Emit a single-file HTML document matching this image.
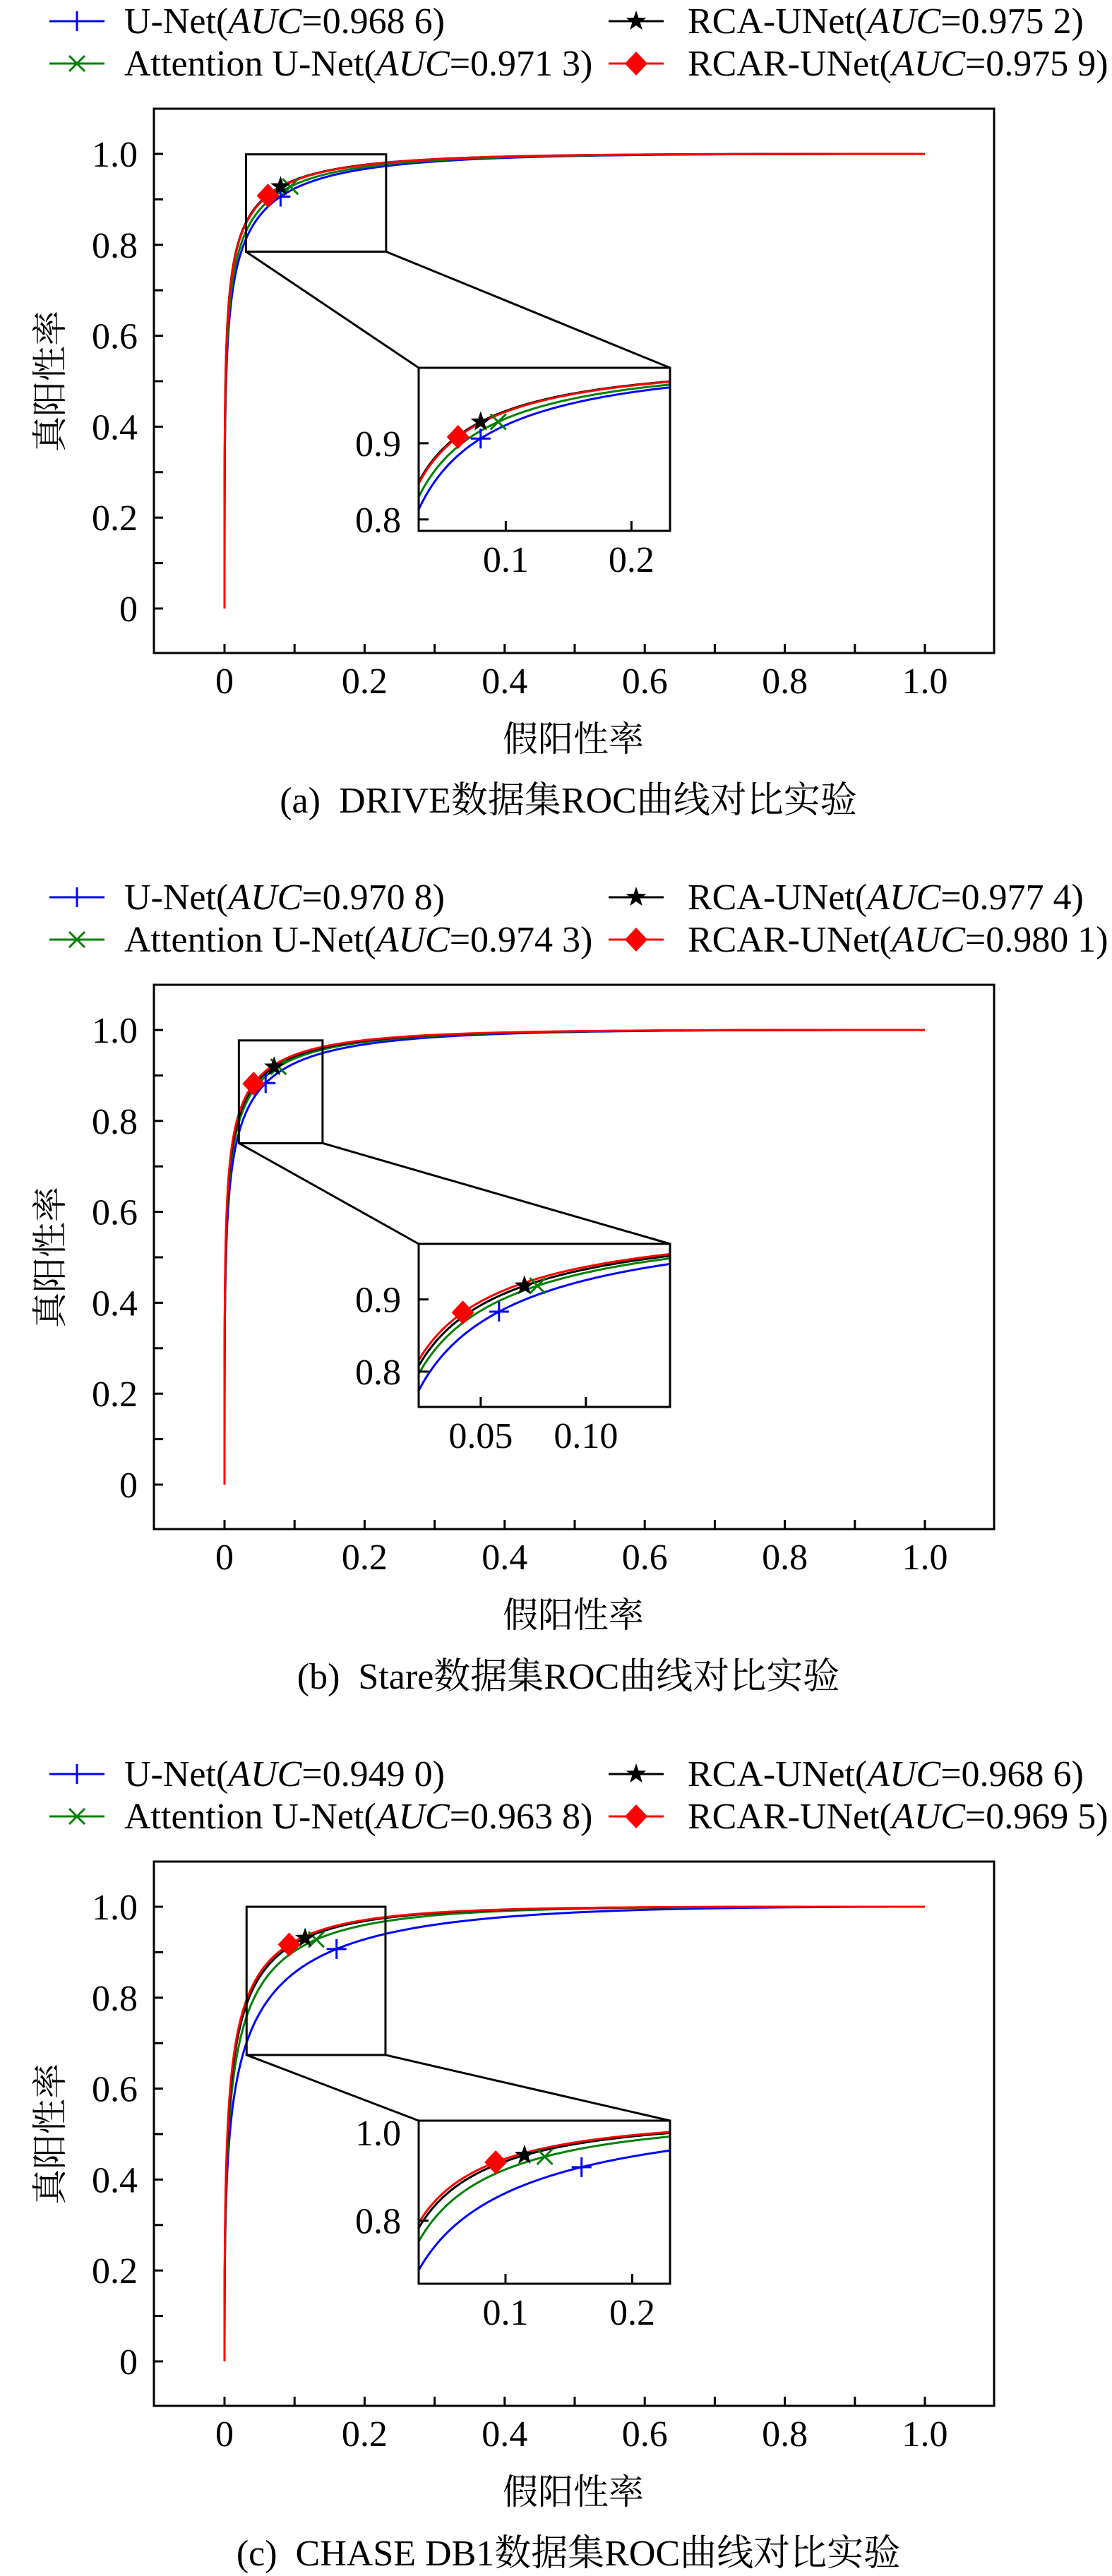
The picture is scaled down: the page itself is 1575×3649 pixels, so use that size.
<!DOCTYPE html>
<html><head><meta charset="utf-8">
<style>
html,body{margin:0;padding:0;background:#fff;}
svg{display:block;}
text{font-family:"Liberation Serif","Noto Serif CJK SC","Noto Sans CJK SC",serif;fill:#000;}
</style></head>
<body>
<svg id="s" width="1575" height="3649" viewBox="0 0 1575 3649" xmlns="http://www.w3.org/2000/svg"></svg>
<script>
function erf(x){var s=x<0?-1:1;x=Math.abs(x);var t=1/(1+0.3275911*x);
var y=1-(((((1.061405429*t-1.453152027)*t)+1.421413741)*t-0.284496736)*t+0.254829592)*t*Math.exp(-x*x);return s*y;}
function Phi(z){return 0.5*(1+erf(z/Math.SQRT2));}
function PhiInv(p){var a=[-3.969683028665376e+01,2.209460984245205e+02,-2.759285104469687e+02,1.383577518672690e+02,-3.066479806614716e+01,2.506628277459239e+00];
var b=[-5.447609879822406e+01,1.615858368580409e+02,-1.556989798598866e+02,6.680131188771972e+01,-1.328068155288572e+01];
var c=[-7.784894002430293e-03,-3.223964580411365e-01,-2.400758277161838e+00,-2.549732539343734e+00,4.374664141464968e+00,2.938163982698783e+00];
var d=[7.784695709041462e-03,3.224671290700398e-01,2.445134137142996e+00,3.754408661907416e+00];
var pl=0.02425,q,r;
if(p<pl){q=Math.sqrt(-2*Math.log(p));return (((((c[0]*q+c[1])*q+c[2])*q+c[3])*q+c[4])*q+c[5])/((((d[0]*q+d[1])*q+d[2])*q+d[3])*q+1);}
if(p<=1-pl){q=p-0.5;r=q*q;return (((((a[0]*r+a[1])*r+a[2])*r+a[3])*r+a[4])*r+a[5])*q/(((((b[0]*r+b[1])*r+b[2])*r+b[3])*r+b[4])*r+1);}
q=Math.sqrt(-2*Math.log(1-p));return -(((((c[0]*q+c[1])*q+c[2])*q+c[3])*q+c[4])*q+c[5])/((((d[0]*q+d[1])*q+d[2])*q+d[3])*q+1);}
function roc(a,b,x){if(x<=0)return 0;if(x>=1)return 1;return Phi(a+b*PhiInv(x));}

var svg=document.getElementById('s');var out='';
var COL=['#0000ff','#008000','#000000','#ff0000'];
var NAMES=['U-Net','Attention U-Net','RCA-UNet','RCAR-UNet'];
function marker(i,x,y){
 var c=COL[i];
 if(i==0)return '<path d="M'+(x-14)+' '+y+'H'+(x+14)+'M'+x+' '+(y-14)+'V'+(y+14)+'" stroke="'+c+'" stroke-width="3" fill="none"/>';
 if(i==1)return '<path d="M'+(x-11)+' '+(y-11)+'L'+(x+11)+' '+(y+11)+'M'+(x-11)+' '+(y+11)+'L'+(x+11)+' '+(y-11)+'" stroke="'+c+'" stroke-width="3" fill="none"/>';
 if(i==2){var p=[];for(var k=0;k<10;k++){var r=k%2?6:15;var an=-Math.PI/2+k*Math.PI/5;p.push((x+r*Math.cos(an)).toFixed(1)+','+(y+r*Math.sin(an)).toFixed(1));}
  return '<polygon points="'+p.join(' ')+'" fill="#000"/>';}
 return '<polygon points="'+x+','+(y-17)+' '+(x+16)+','+y+' '+x+','+(y+17)+' '+(x-16)+','+y+'" fill="'+c+'"/>';
}
function panel(T,P,idx){
 var X=function(v){return 318+992*v;},Y=function(v){return T+708-644*v;};
 var o='';
 // legend
 var rows=[T-124,T-64];
 for(var i=0;i<4;i++){
  var col=(i==0||i==1)?0:1, row=(i==0||i==2)?0:1;
  var lx=col?862:70, tx=col?974:176, ly=rows[row];
  o+='<line x1="'+lx+'" y1="'+ly+'" x2="'+(lx+78)+'" y2="'+ly+'" stroke="'+COL[i]+'" stroke-width="3"/>';
  o+=marker(i,lx+39,ly);
  o+='<text x="'+tx+'" y="'+(ly+17)+'" font-size="52">'+NAMES[i]+'(<tspan font-style="italic">AUC</tspan>='+P.auc[i]+')</text>';
 }
 // axes
 o+='<rect x="218" y="'+T+'" width="1190" height="771" fill="none" stroke="#000" stroke-width="3"/>';
 for(var k=0;k<=10;k++){var xx=X(k/10);o+='<line x1="'+xx+'" y1="'+(T+771)+'" x2="'+xx+'" y2="'+(T+758)+'" stroke="#000" stroke-width="3"/>';
  var yy=Y(k/10);o+='<line x1="218" y1="'+yy+'" x2="231" y2="'+yy+'" stroke="#000" stroke-width="3"/>';}
 var lab=['0','0.2','0.4','0.6','0.8','1.0'];
 for(var k=0;k<6;k++){o+='<text x="'+X(k*0.2)+'" y="'+(T+828)+'" font-size="52" text-anchor="middle">'+lab[k]+'</text>';
  o+='<text x="195" y="'+(Y(k*0.2)+18)+'" font-size="52" text-anchor="end">'+lab[k]+'</text>';}
 o+='<text x="812" y="'+(T+910)+'" font-size="50" text-anchor="middle">假阳性率</text>';
 o+='<text transform="translate(88,'+(T+386)+') rotate(-90)" font-size="50" text-anchor="middle">真阳性率</text>';
 o+='<text x="805" y="'+(T+997)+'" font-size="52" text-anchor="middle" xml:space="preserve">'+P.cap+'</text>';
 // curves main
 var xs=[0];for(var e=-8;e<=0;e+=0.01)xs.push(Math.pow(10,e));
 var ix0=593,ix1=949,iy0=T+367,iy1=T+598;
 var r=P.r;
 var IX=function(v){return ix0+(v-r[0])/(r[1]-r[0])*(ix1-ix0);},IY=function(v){return iy1-(v-r[2])/(r[3]-r[2])*(iy1-iy0);};
 o+='<clipPath id="c'+idx+'"><rect x="'+ix0+'" y="'+iy0+'" width="'+(ix1-ix0)+'" height="'+(iy1-iy0)+'"/></clipPath>';
 var mk='',mki='';
 for(var i=0;i<4;i++){
  var a=P.a[i],b=P.b[i],d='',d2='';
  for(var j=0;j<xs.length;j++){var x=xs[j],y=roc(a,b,x);d+=(j?'L':'M')+X(x).toFixed(2)+' '+Y(y).toFixed(2);}
  o+='<path d="'+d+'" fill="none" stroke="'+COL[i]+'" stroke-width="3"/>';
  for(var j=0;j<=300;j++){var x=r[0]+(r[1]-r[0])*j/300,y=roc(a,b,x);d2+=(j?'L':'M')+IX(x).toFixed(2)+' '+IY(y).toFixed(2);}
  mki+='<path d="'+d2+'" fill="none" stroke="'+COL[i]+'" stroke-width="3" clip-path="url(#c'+idx+')"/>';
  var mx=P.m[i],my=roc(a,b,mx);
  mk+=marker(i,X(mx),Y(my));
  mki+='';P['im'+i]=[IX(mx),IY(my)];
 }
 o+=mk;
 // zoom rect and connectors
 var rx0=X(r[0]),rx1=X(r[1]),ry0=Y(r[3]),ry1=Y(r[2]);
 o+='<rect x="'+rx0+'" y="'+ry0+'" width="'+(rx1-rx0)+'" height="'+(ry1-ry0)+'" fill="none" stroke="#000" stroke-width="3"/>';
 o+='<line x1="'+rx0+'" y1="'+ry1+'" x2="'+ix0+'" y2="'+iy0+'" stroke="#000" stroke-width="3"/>';
 o+='<line x1="'+rx1+'" y1="'+ry1+'" x2="'+ix1+'" y2="'+iy0+'" stroke="#000" stroke-width="3"/>';
 // inset
 o+='<rect x="'+ix0+'" y="'+iy0+'" width="'+(ix1-ix0)+'" height="'+(iy1-iy0)+'" fill="#fff" stroke="none"/>';
 o+=mki;
 for(var i=0;i<4;i++)o+=marker(i,P['im'+i][0],P['im'+i][1]);
 o+='<rect x="'+ix0+'" y="'+iy0+'" width="'+(ix1-ix0)+'" height="'+(iy1-iy0)+'" fill="none" stroke="#000" stroke-width="3"/>';
 for(var k=0;k<P.xt.length;k++){var xx=IX(P.xt[k][0]);o+='<line x1="'+xx+'" y1="'+iy1+'" x2="'+xx+'" y2="'+(iy1-14)+'" stroke="#000" stroke-width="3"/>';
  o+='<text x="'+xx+'" y="'+(iy1+58)+'" font-size="52" text-anchor="middle">'+P.xt[k][1]+'</text>';}
 for(var k=0;k<P.yt.length;k++){var yv=P.yt[k][0],yy=IY(yv);
  if(yv<r[3])o+='<line x1="'+ix0+'" y1="'+yy+'" x2="'+(ix0+14)+'" y2="'+yy+'" stroke="#000" stroke-width="3"/>';
  var ty=P.yt[k][2]!==undefined?P.yt[k][2]:yy;
  o+='<text x="568" y="'+(ty+18)+'" font-size="52" text-anchor="end">'+P.yt[k][1]+'</text>';}
 return o;
}
var panels=[
 {T:154,cap:'(a)  DRIVE数据集ROC曲线对比实验',auc:['0.968 6','0.971 3','0.975 2','0.975 9'],
  a:[2.610,2.673,2.754,2.745],b:[0.92,0.92,0.92,0.92],m:[0.080,0.094,0.080,0.062],
  r:[0.0307,0.2307,0.785,0.999],xt:[[0.1,'0.1'],[0.2,'0.2']],yt:[[0.8,'0.8'],[0.9,'0.9']]},
 {T:1395,cap:'(b)  Stare数据集ROC曲线对比实验',auc:['0.970 8','0.974 3','0.977 4','0.980 1'],
  a:[2.631,2.710,2.750,2.779],b:[0.92,0.92,0.92,0.92],m:[0.0587,0.077,0.0708,0.0415],
  r:[0.0205,0.140,0.751,0.977],xt:[[0.05,'0.05'],[0.10,'0.10']],yt:[[0.8,'0.8'],[0.9,'0.9']]},
 {T:2637,cap:'(c)  CHASE DB1数据集ROC曲线对比实验',auc:['0.949 0','0.963 8','0.968 6','0.969 5'],
  a:[2.238,2.616,2.743,2.778],b:[0.92,1.03,1.05,1.05],m:[0.160,0.131,0.115,0.0923],
  r:[0.0315,0.2298,0.674,1.0],xt:[[0.1,'0.1'],[0.2,'0.2']],yt:[[0.8,'0.8'],[1.0,'1.0',2637+384]]}
];
for(var p=0;p<3;p++)out+=panel(panels[p].T,panels[p],p);
svg.innerHTML=out;
</script>
</body></html>
